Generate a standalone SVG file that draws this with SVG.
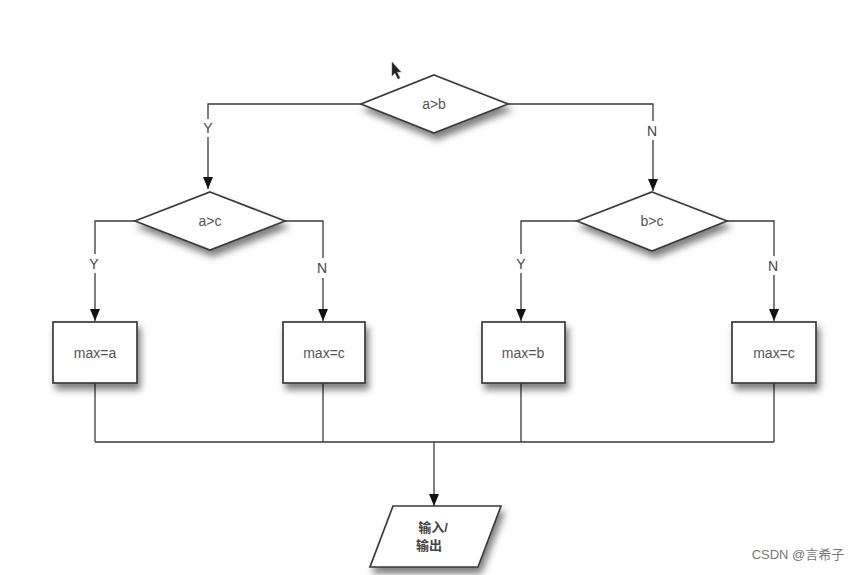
<svg xmlns="http://www.w3.org/2000/svg" width="861" height="575" viewBox="0 0 861 575">
<defs>
  <filter id="sh" x="-20%" y="-20%" width="150%" height="170%">
    <feDropShadow dx="3" dy="6" stdDeviation="3.5" flood-color="#000" flood-opacity="0.5"/>
  </filter>
  <marker id="ahd" viewBox="0 0 12 10" refX="12" refY="5" markerWidth="13" markerHeight="10" markerUnits="userSpaceOnUse" orient="auto">
    <path d="M0,0 L12,5 L0,10 Z" fill="#111"/>
  </marker>
</defs>
<style>
  .shape { fill: #fff; stroke: #3a3a3a; stroke-width: 1.7; filter: url(#sh); }
  .line { fill: none; stroke: #3a3a3a; stroke-width: 1.3; }
  .arr { fill: none; stroke: #3a3a3a; stroke-width: 1.3; marker-end: url(#ahd); }
  .lbl { font-family: "Liberation Sans", "DejaVu Sans", sans-serif; font-size: 14px; fill: #555; text-anchor: middle; dominant-baseline: central; }
  .yn { font-family: "Liberation Sans", "DejaVu Sans", sans-serif; font-size: 14px; fill: #444; text-anchor: middle; dominant-baseline: central; }
  .cjk { font-family: "Liberation Sans", "Noto Sans CJK SC", sans-serif; font-size: 13px; font-weight: bold; fill: #444; text-anchor: middle; dominant-baseline: central; }
</style>
<rect width="861" height="575" fill="#fff"/>

<g id="connectors">
  <polyline class="line" points="361,104 208,104 208,119"/>
  <line class="arr" x1="208" y1="137" x2="208" y2="189"/>
  <polyline class="line" points="508,104 653,104 653,121"/>
  <line class="arr" x1="653" y1="140" x2="653" y2="191"/>
  <polyline class="line" points="135,221 95,221 95,254"/>
  <line class="arr" x1="95" y1="273" x2="95" y2="321"/>
  <polyline class="line" points="285,221 323,221 323,258"/>
  <line class="arr" x1="323" y1="278" x2="323" y2="321"/>
  <polyline class="line" points="577,221 521,221 521,254"/>
  <line class="arr" x1="521" y1="273" x2="521" y2="321"/>
  <polyline class="line" points="727,221 774,221 774,256"/>
  <line class="arr" x1="774" y1="275" x2="774" y2="321"/>
  <line class="line" x1="95" y1="383" x2="95" y2="442"/>
  <line class="line" x1="323" y1="383" x2="323" y2="442"/>
  <line class="line" x1="521" y1="383" x2="521" y2="442"/>
  <line class="line" x1="774" y1="383" x2="774" y2="442"/>
  <line class="line" x1="95" y1="442" x2="774" y2="442"/>
  <line class="arr" x1="434" y1="442" x2="434" y2="506"/>
  <text class="yn" x="208" y="128">Y</text>
  <text class="yn" x="652" y="131">N</text>
  <text class="yn" x="94" y="264">Y</text>
  <text class="yn" x="322" y="268">N</text>
  <text class="yn" x="521" y="264">Y</text>
  <text class="yn" x="773" y="266">N</text>
</g>

<g id="d_ab">
  <polygon class="shape" points="434,75 508,104 434,133 361,104"/>
  <text class="lbl" x="434" y="104">a&gt;b</text>
</g>
<g id="d_ac">
  <polygon class="shape" points="210,192 285,221 210,250 135,221"/>
  <text class="lbl" x="210" y="221">a&gt;c</text>
</g>
<g id="d_bc">
  <polygon class="shape" points="652,192 727,221 652,251 577,221"/>
  <text class="lbl" x="652" y="221">b&gt;c</text>
</g>
<g id="b_maxa">
  <rect class="shape" x="53" y="322" width="84" height="61"/>
  <text class="lbl" x="95" y="353">max=a</text>
</g>
<g id="b_maxc1">
  <rect class="shape" x="283" y="322" width="82" height="61"/>
  <text class="lbl" x="324" y="353">max=c</text>
</g>
<g id="b_maxb">
  <rect class="shape" x="482" y="322" width="83" height="61"/>
  <text class="lbl" x="523" y="353">max=b</text>
</g>
<g id="b_maxc2">
  <rect class="shape" x="732" y="322" width="84" height="61"/>
  <text class="lbl" x="774" y="353">max=c</text>
</g>
<g id="io">
  <polygon class="shape" points="393,506 501,506 478,567 370,567"/>
  <text class="cjk" x="433" y="527">输入/</text>
  <text class="cjk" x="429" y="545">输出</text>
</g>

<g id="cursor">
  <path d="M392,62 L392,76 L395,73 L398,79 L400,78 L397,72 L401,72 Z" fill="#222" stroke="#666" stroke-width="0.5"/>
</g>

<text x="798" y="554" font-family="Liberation Sans, Noto Sans CJK SC, sans-serif" font-size="13" fill="#777" text-anchor="middle" dominant-baseline="central">CSDN @言希子</text>
</svg>
